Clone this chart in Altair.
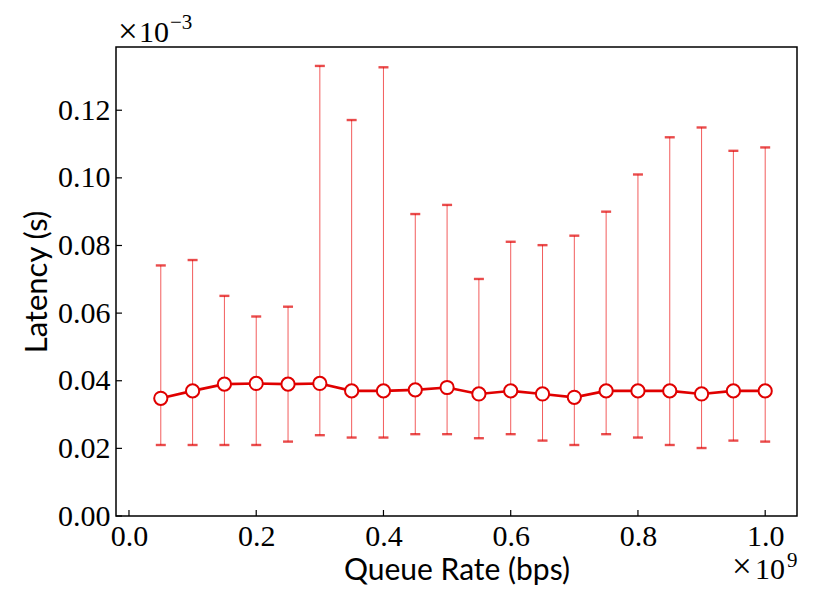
import altair as alt
import pandas as pd

rate = [0.05, 0.10, 0.15, 0.20, 0.25, 0.30, 0.35, 0.40, 0.45, 0.50,
        0.55, 0.60, 0.65, 0.70, 0.75, 0.80, 0.85, 0.90, 0.95, 1.00]
mean = [0.0348, 0.0370, 0.0390, 0.0392, 0.0390, 0.0392, 0.0370, 0.0370, 0.0373, 0.0380,
        0.0361, 0.0370, 0.0361, 0.0351, 0.0370, 0.0370, 0.0370, 0.0361, 0.0370, 0.0370]
upper = [0.0741, 0.0757, 0.0651, 0.0590, 0.0619, 0.1331, 0.1171, 0.1327, 0.0893, 0.0920,
         0.0701, 0.0811, 0.0801, 0.0829, 0.0900, 0.1010, 0.1120, 0.1149, 0.1080, 0.1090]
lower = [0.0210, 0.0210, 0.0210, 0.0210, 0.0220, 0.0239, 0.0232, 0.0232, 0.0242, 0.0242,
         0.0230, 0.0242, 0.0223, 0.0210, 0.0242, 0.0232, 0.0210, 0.0201, 0.0223, 0.0220]
x_ticks = [0.0, 0.2, 0.4, 0.6, 0.8, 1.0]
y_ticks = [0.00, 0.02, 0.04, 0.06, 0.08, 0.10, 0.12]

W, H = 681, 469
RED = "#e00000"
SERIF = "Liberation Serif"
SANS = "Lato"

df = pd.DataFrame({"rate": rate, "mean": mean, "upper": upper, "lower": lower})
xs = alt.Scale(domain=[-0.0204, 1.05], nice=False, zero=False)
ys = alt.Scale(domain=[0.0, 0.1387], nice=False, zero=False)

xaxis = alt.Axis(values=x_ticks, format=".1f", title="Queue Rate (bps)", ticks=False,
                 tickSize=0, labelPadding=29, labelBaseline="alphabetic",
                 labelFont=SERIF, labelFontSize=30, labelColor="black",
                 titleFont=SANS, titleFontSize=30, titleFontWeight="normal", titleColor="black",
                 titleY=63, titleBaseline="alphabetic", domain=False, grid=False)
yaxis = alt.Axis(values=y_ticks, format=".2f", title="Latency (s)", ticks=False,
                 tickSize=0, labelPadding=6, labelBaseline="middle",
                 labelFont=SERIF, labelFontSize=30, labelColor="black",
                 titleFont=SANS, titleFontSize=31, titleFontWeight="normal", titleColor="black",
                 titleX=-70, titleY=H / 2, titleBaseline="alphabetic", domain=False, grid=False)

base = alt.Chart(df)

bars = base.mark_rule(color="#f04040", strokeWidth=1.0, opacity=0.85).encode(
    x=alt.X("rate:Q", scale=xs, axis=xaxis),
    y=alt.Y("lower:Q", scale=ys, axis=yaxis),
    y2="upper:Q",
)
cap_hi = base.mark_tick(color=RED, orient="horizontal", size=10, thickness=2.4).encode(
    x=alt.X("rate:Q", scale=xs), y=alt.Y("upper:Q", scale=ys))
cap_lo = base.mark_tick(color=RED, orient="horizontal", size=10, thickness=2.4).encode(
    x=alt.X("rate:Q", scale=xs), y=alt.Y("lower:Q", scale=ys))
line = base.mark_line(color=RED, strokeWidth=2.6).encode(
    x=alt.X("rate:Q", scale=xs), y=alt.Y("mean:Q", scale=ys))
pts = base.mark_point(shape="circle", filled=True, fill="white", stroke=RED,
                      strokeWidth=2, size=175, opacity=1).encode(
    x=alt.X("rate:Q", scale=xs), y=alt.Y("mean:Q", scale=ys))

xt = alt.Chart(pd.DataFrame({"v": x_ticks})).mark_rule(color="black", strokeWidth=1.2).encode(
    x=alt.X("v:Q", scale=xs), y=alt.value(H), y2=alt.value(H - 6))
yt = alt.Chart(pd.DataFrame({"v": y_ticks})).mark_rule(color="black", strokeWidth=1.2).encode(
    y=alt.Y("v:Q", scale=ys), x=alt.value(0), x2=alt.value(6))

def txt(s, x, y, size):
    return alt.Chart(pd.DataFrame({"t": [s]})).mark_text(
        font=SERIF, fontSize=size, align="left", baseline="alphabetic", color="black"
    ).encode(text="t:N", x=alt.value(x), y=alt.value(y))

offsets = [
    txt("×", 2, -4, 35), txt("10", 23, -5, 30), txt("−3", 54, -18, 21),
    txt("×", 616, H + 62, 35), txt("10", 639, H + 63, 30), txt("9", 671, H + 51, 21),
]

chart = alt.layer(bars, cap_hi, cap_lo, line, pts, xt, yt, *offsets).properties(
    width=W, height=H,
    background="white",
    autosize=alt.AutoSizeParams(type="none"),
    padding={"left": 108, "top": 39, "right": 25, "bottom": 69},
).configure_view(stroke="black", strokeWidth=1.5)

chart.save("out.html", embed_options={"renderer": "svg", "actions": False})
